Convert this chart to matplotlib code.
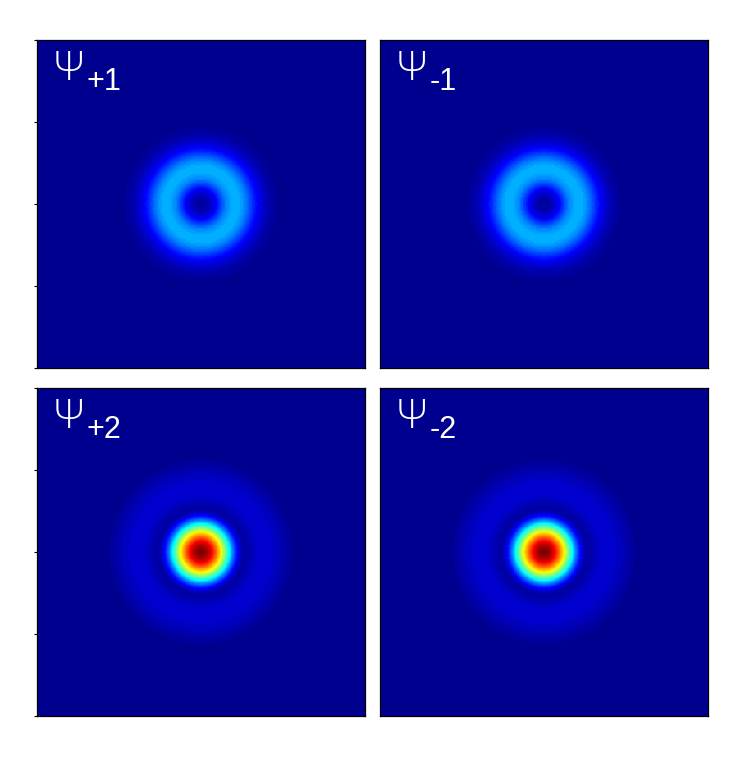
import numpy as np
import matplotlib
matplotlib.use('Agg')
import matplotlib.pyplot as plt
from matplotlib.colors import ListedColormap

# radial intensity profiles
# radius is in units of the panel half-width, value on the shared colour scale (0..1)
ring_radius = [0.0, 0.0305, 0.061, 0.0915, 0.122, 0.152, 0.183, 0.213, 0.244, 0.274,
               0.305, 0.335, 0.366, 0.396, 0.427, 0.476, 0.549, 1.5]
ring_value = [0.02, 0.03, 0.06, 0.11, 0.18, 0.245, 0.28, 0.29, 0.28, 0.24,
              0.185, 0.13, 0.085, 0.055, 0.03, 0.012, 0.0, 0.0]

core_radius = [0.0, 0.024, 0.049, 0.073, 0.098, 0.122, 0.146, 0.171, 0.195, 0.22,
               0.244, 0.268, 0.305, 0.341, 0.378, 0.415, 0.451, 0.488, 0.524,
               0.561, 0.61, 0.67, 1.5]
core_value = [1.0, 0.98, 0.93, 0.85, 0.74, 0.63, 0.50, 0.38, 0.24, 0.13, 0.05,
              0.025, 0.045, 0.065, 0.075, 0.07, 0.06, 0.045, 0.03, 0.015, 0.005,
              0.0, 0.0]

panel_labels = ['+1', '-1', '+2', '-2']
panel_profile = ['ring', 'ring', 'core', 'core']


def matlab_jet(m=64):
    # same 64-step jet that MATLAB uses
    n = int(np.ceil(m / 4))
    u = np.concatenate([np.arange(1, n + 1) / n, np.ones(n - 1), np.arange(n, 0, -1) / n])
    g = int(np.ceil(n / 2)) - (1 if m % 4 == 1 else 0) + np.arange(1, len(u) + 1)
    r = g + n
    b = g - n
    cols = np.zeros((m, 3))
    for idx, chan in ((r, 0), (g, 1), (b, 2)):
        ok = (idx >= 1) & (idx <= m)
        cols[idx[ok] - 1, chan] = u[ok]
    return ListedColormap(cols)


cmap = matlab_jet(64)

N = 400
xs = np.linspace(-1, 1, N)
X, Y = np.meshgrid(xs, xs)
R = np.hypot(X, Y)
fields = {
    'ring': np.interp(R, ring_radius, ring_value),
    'core': np.interp(R, core_radius, core_value),
}

fig = plt.figure(figsize=(7.45, 7.58), dpi=100)

lefts = [37, 380, 37, 380]
tops = [40, 40, 388, 388]
size = 328

for i in range(4):
    ax = fig.add_axes([lefts[i] / 745, 1 - (tops[i] + size) / 758, size / 745, size / 758])
    ax.imshow(fields[panel_profile[i]], cmap=cmap, vmin=0, vmax=1,
              extent=[-1, 1, -1, 1], origin='lower', interpolation='nearest', aspect='auto')
    ax.set_xticks([])
    if i % 2 == 0:
        ax.set_yticks([-1, -0.5, 0, 0.5, 1])
        ax.tick_params(axis='y', direction='out', length=2, width=0.8, labelleft=False)
    else:
        ax.set_yticks([])
    for s in ax.spines.values():
        s.set_color('black')
        s.set_linewidth(0.9)
    ax.text(17 / size, 1 - 40 / size, '\u03a8', transform=ax.transAxes, color='white',
            family='Open Sans', weight='light', fontsize=29, ha='left', va='baseline')
    ax.text(50 / size, 1 - 50 / size, panel_labels[i], transform=ax.transAxes, color='white',
            family='Liberation Sans', fontsize=22, ha='left', va='baseline')

fig.savefig('out.png', dpi=100)
